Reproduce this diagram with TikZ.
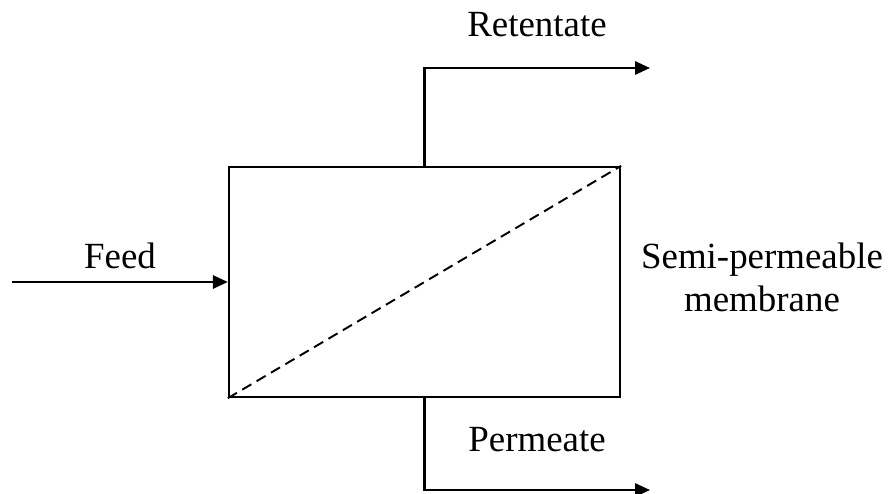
\documentclass[tikz,border=0pt]{standalone}
\usepackage{fontspec}
\setmainfont{Liberation Serif}
\usetikzlibrary{arrows.meta}
\begin{document}
\begin{tikzpicture}
  [x=0.02cm,y=-0.02cm,line width=1.35pt,
   every node/.style={font=\fontsize{21}{24.5}\selectfont},
   flow/.style={-{Triangle[length=8.5pt,width=7.5pt]}}]
  \useasboundingbox (0,0) rectangle (891,493);
  \node (mod) at (424.5,282) [draw,minimum width=7.82cm,minimum height=4.6cm,inner sep=0] {};
  \coordinate (feedin) at (12,282);
  \coordinate (retout) at (650,68);
  \coordinate (permout) at (650,490);

  \node (feed) at (120,256) {Feed};
  \node (ret) at (537,25) {Retentate};
  \node (perm) at (537,440) {Permeate};
  \node (memb) at (762,277) [align=center] {Semi-permeable\\membrane};

  \draw[flow] (feedin) -- (mod.west);
  \draw[flow] (mod.north) |- (retout);
  \draw[flow] (mod.south) |- (permout);
  \draw[line width=1.1pt,dash pattern=on 6pt off 3.5pt] (mod.south west) -- (mod.north east);
\end{tikzpicture}
\end{document}
